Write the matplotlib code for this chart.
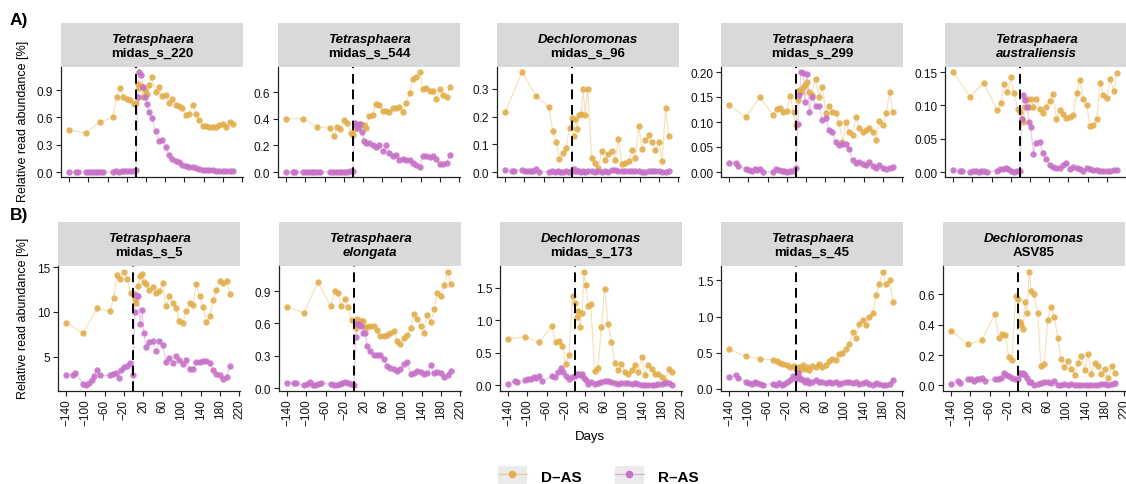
import matplotlib
matplotlib.use("Agg")
import matplotlib.pyplot as plt
from matplotlib.lines import Line2D
from matplotlib.patches import Patch
from matplotlib.legend_handler import HandlerTuple
import numpy as np

plt.rcParams['font.family'] = ['Liberation Sans', 'DejaVu Sans']

# sampling days (shared by all panels)
d_pre_days = [-140, -105, -76, -49, -41, -34, -27, -20, -13, -6, -1]
r_pre_days = [-140, -126, -121, -105, -99, -93, -87, -81, -76, -70,
              -49, -43, -37, -31, -25, -19, -13, -7, -1]
post_days = [3, 6, 10, 14, 18, 22, 27, 32, 40, 47, 54, 61, 68, 75, 82, 89,
             96, 103, 110, 117, 124, 131, 138, 145, 152, 159, 166, 173, 180,
             187, 194, 201]
d_days = d_pre_days + post_days
r_days = r_pre_days + post_days

# ---- A) ----
das_s220 = [0.46, 0.43, 0.55, 0.60, 0.83, 0.92, 0.83, 0.80, 0.79, 0.75, 0.76,
            0.97, 0.92, 0.95, 0.83, 0.90, 0.86, 0.96, 1.05, 0.88, 0.94, 0.84, 0.85,
            0.76, 0.80, 0.74, 0.73, 0.70, 0.63, 0.64, 0.74, 0.64, 0.57, 0.51, 0.51,
            0.50, 0.49, 0.50, 0.52, 0.53, 0.50, 0.55, 0.53]
ras_s220 = [0.0, 0.001, 0.0, 0.0, 0.001, 0.0, 0.0, 0.001, 0.0, 0.0, 0.005, 0.006,
            0.005, 0.008, 0.008, 0.01, 0.01, 0.015, 0.025,
            0.83, 1.10, 1.07, 0.94, 0.82, 0.75, 0.66, 0.59, 0.45, 0.34, 0.35, 0.28,
            0.19, 0.14, 0.12, 0.11, 0.08, 0.07, 0.06, 0.05, 0.04, 0.03, 0.02, 0.02,
            0.02, 0.02, 0.015, 0.01, 0.01, 0.01, 0.01, 0.01]

das_s544 = [0.40, 0.40, 0.34, 0.33, 0.27, 0.34, 0.32, 0.39, 0.37, 0.29, 0.28,
            0.32, 0.33, 0.35, 0.36, 0.35, 0.35, 0.33, 0.42, 0.43, 0.51, 0.50, 0.46,
            0.46, 0.45, 0.48, 0.48, 0.49, 0.45, 0.52, 0.59, 0.70, 0.71, 0.75, 0.62,
            0.63, 0.61, 0.61, 0.55, 0.62, 0.58, 0.56, 0.64]
ras_s544 = [0.002, 0.001, 0.001, 0.001, 0.002, 0.001, 0.001, 0.001, 0.002, 0.001,
            0.002, 0.001, 0.002, 0.001, 0.002, 0.003, 0.004, 0.005, 0.008,
            0.37, 0.35, 0.33, 0.36, 0.30, 0.23, 0.22, 0.22, 0.20, 0.19, 0.20, 0.16,
            0.20, 0.14, 0.12, 0.13, 0.09, 0.10, 0.09, 0.09, 0.07, 0.05, 0.04, 0.12,
            0.12, 0.11, 0.12, 0.10, 0.06, 0.06, 0.07, 0.13]

das_s96 = [0.215, 0.36, 0.275, 0.235, 0.147, 0.11, 0.048, 0.068, 0.086, 0.16, 0.195,
           0.13, 0.19, 0.155, 0.205, 0.21, 0.30, 0.205, 0.30, 0.05, 0.035, 0.015,
           0.075, 0.045, 0.065, 0.075, 0.045, 0.12, 0.03, 0.035, 0.04, 0.08, 0.05,
           0.165, 0.085, 0.115, 0.135, 0.11, 0.08, 0.11, 0.04, 0.23, 0.13]
ras_s96 = [0.008, 0.003, 0.006, 0.008, 0.006, 0.005, 0.006, 0.004, 0.012, 0.002,
           0.002, 0.003, 0.002, 0.003, 0.002, 0.001, 0.003, 0.002, 0.004,
           0.01, 0.006, 0.003, 0.004, 0.002, 0.003, 0.002, 0.004, 0.003, 0.002,
           0.004, 0.002, 0.003, 0.001, 0.008, 0.009, 0.006, 0.004, 0.003, 0.005,
           0.004, 0.006, 0.005, 0.002, 0.001, 0.003, 0.004, 0.003, 0.006, 0.002,
           0.001, 0.004]

das_s299 = [0.134, 0.11, 0.15, 0.114, 0.127, 0.128, 0.12, 0.123, 0.152, 0.12, 0.094,
            0.145, 0.165, 0.16, 0.17, 0.175, 0.18, 0.16, 0.155, 0.187, 0.15, 0.17,
            0.118, 0.133, 0.12, 0.118, 0.098, 0.06, 0.10, 0.08, 0.075, 0.11, 0.088,
            0.08, 0.085, 0.088, 0.08, 0.065, 0.103, 0.095, 0.118, 0.16, 0.12]
ras_s299 = [0.018, 0.018, 0.012, 0.007, 0.005, 0.002, 0.006, 0.005, 0.006, 0.0,
            0.0, 0.006, 0.004, 0.003, 0.002, 0.0, 0.002, 0.003, 0.008,
            0.097, 0.155, 0.20, 0.198, 0.14, 0.197, 0.12, 0.15, 0.133, 0.132, 0.105,
            0.108, 0.085, 0.08, 0.06, 0.055, 0.056, 0.056, 0.047, 0.025, 0.018,
            0.02, 0.017, 0.015, 0.02, 0.013, 0.008, 0.015, 0.008, 0.006, 0.009, 0.01]

das_aus = [0.15, 0.113, 0.134, 0.093, 0.103, 0.132, 0.12, 0.142, 0.118, 0.094, 0.09,
           0.08, 0.075, 0.098, 0.11, 0.097, 0.11, 0.098, 0.11, 0.094, 0.088, 0.098,
           0.107, 0.117, 0.08, 0.093, 0.087, 0.081, 0.082, 0.085, 0.118, 0.138,
           0.11, 0.101, 0.069, 0.071, 0.079, 0.134, 0.116, 0.111, 0.139, 0.122, 0.149]
ras_aus = [0.003, 0.001, 0.001, 0.0, 0.001, 0.001, 0.0, 0.002, 0.001, 0.0, 0.002,
           0.004, 0.005, 0.006, 0.004, 0.001, 0.0, 0.001, 0.002,
           0.08, 0.115, 0.108, 0.098, 0.075, 0.067, 0.027, 0.044, 0.045, 0.029,
           0.02, 0.01, 0.007, 0.006, 0.006, 0.01, 0.013, 0.005, 0.007, 0.006,
           0.004, 0.002, 0.006, 0.004, 0.003, 0.003, 0.002, 0.002, 0.002, 0.002,
           0.003, 0.003]

# ---- B) ----
das_s5 = [8.8, 7.6, 10.4, 10.05, 11.6, 14.1, 13.7, 14.5, 13.7, 12.1, 12.1,
          11.5, 11.0, 12.9, 14.0, 14.2, 13.3, 13.1, 12.4, 12.8, 12.1, 12.3, 13.2,
          10.65, 11.8, 11.0, 10.4, 9.0, 8.8, 10.05, 11.0, 10.8, 13.1, 11.8, 10.5,
          8.9, 9.5, 11.3, 12.5, 13.5, 13.2, 13.5, 12.0]
ras_s5 = [3.0, 3.0, 3.2, 2.0, 1.8, 2.1, 2.35, 2.8, 3.5, 2.9, 2.9, 3.1, 3.2, 2.6,
          3.5, 3.8, 4.0, 4.3, 3.0,
          10.0, 11.9, 11.8, 8.7, 10.2, 7.6, 6.1, 6.65, 6.8, 5.6, 6.7, 6.3, 4.4,
          4.8, 4.3, 5.1, 4.6, 4.2, 4.6, 3.6, 3.6, 4.4, 4.45, 4.5, 4.5, 4.3, 3.5,
          3.1, 3.0, 2.5, 2.75, 3.95]

das_elo = [0.75, 0.70, 0.98, 0.76, 0.90, 0.88, 0.76, 0.83, 0.75, 0.63, 0.62,
           0.56, 0.64, 0.62, 0.62, 0.62, 0.57, 0.57, 0.58, 0.58, 0.54, 0.48, 0.48,
           0.49, 0.51, 0.525, 0.44, 0.41, 0.46, 0.49, 0.56, 0.69, 0.64, 0.58, 0.51,
           0.68, 0.61, 0.73, 0.88, 0.85, 0.96, 1.08, 0.97]
ras_elo = [0.047, 0.045, 0.045, 0.025, 0.04, 0.056, 0.03, 0.03, 0.04, 0.05, 0.035,
           0.03, 0.03, 0.04, 0.047, 0.056, 0.05, 0.035, 0.025,
           0.47, 0.59, 0.59, 0.58, 0.51, 0.51, 0.39, 0.34, 0.31, 0.31, 0.31, 0.27,
           0.20, 0.19, 0.18, 0.16, 0.18, 0.225, 0.24, 0.13, 0.14, 0.16, 0.15, 0.13,
           0.14, 0.21, 0.14, 0.15, 0.135, 0.10, 0.125, 0.16]

das_s173 = [0.71, 0.75, 0.66, 0.91, 0.67, 0.69, 0.60, 0.33, 0.47, 1.38, 1.27,
            1.05, 1.15, 0.90, 1.11, 1.75, 1.54, 1.22, 1.25, 0.22, 0.26, 0.90, 1.49,
            0.94, 0.67, 0.35, 0.24, 0.33, 0.20, 0.17, 0.24, 0.31, 0.20, 0.43, 0.16,
            0.31, 0.25, 0.18, 0.18, 0.13, 0.07, 0.25, 0.21]
ras_s173 = [0.02, 0.07, 0.05, 0.08, 0.09, 0.10, 0.13, 0.12, 0.14, 0.07, 0.14, 0.13,
            0.21, 0.27, 0.21, 0.15, 0.10, 0.13, 0.15,
            0.17, 0.18, 0.16, 0.17, 0.11, 0.08, 0.02, 0.05, 0.02, 0.03, 0.05, 0.06,
            0.06, 0.05, 0.04, 0.02, 0.03, 0.03, 0.03, 0.02, 0.03, 0.02, 0.01, 0.01,
            0.01, 0.0, 0.01, 0.02, 0.02, 0.04, 0.03, 0.01]

das_s45 = [0.55, 0.45, 0.42, 0.40, 0.38, 0.36, 0.35, 0.33, 0.30, 0.32, 0.28,
           0.25, 0.30, 0.27, 0.33, 0.28, 0.30, 0.26, 0.32, 0.30, 0.35, 0.30, 0.33,
           0.38, 0.42, 0.40, 0.48, 0.50, 0.55, 0.62, 0.78, 0.70, 0.90, 0.95, 0.88,
           1.00, 1.05, 1.30, 1.45, 1.62, 1.45, 1.50, 1.20]
ras_s45 = [0.17, 0.19, 0.15, 0.10, 0.08, 0.07, 0.09, 0.08, 0.07, 0.06, 0.07, 0.06,
           0.08, 0.06, 0.07, 0.09, 0.12, 0.18, 0.14,
           0.22, 0.16, 0.14, 0.12, 0.10, 0.12, 0.08, 0.10, 0.12, 0.09, 0.10, 0.08,
           0.09, 0.08, 0.10, 0.07, 0.08, 0.10, 0.09, 0.08, 0.10, 0.07, 0.08, 0.09,
           0.07, 0.06, 0.08, 0.07, 0.06, 0.05, 0.07, 0.12]

das_asv85 = [0.36, 0.27, 0.30, 0.47, 0.31, 0.34, 0.33, 0.185, 0.17, 0.59, 0.57,
             0.42, 0.40, 0.37, 0.55, 0.48, 0.75, 0.62, 0.60, 0.48, 0.13, 0.14, 0.43,
             0.52, 0.45, 0.31, 0.175, 0.12, 0.16, 0.11, 0.07, 0.15, 0.195, 0.10,
             0.205, 0.075, 0.15, 0.13, 0.075, 0.11, 0.046, 0.125, 0.08]
ras_asv85 = [0.01, 0.03, 0.015, 0.045, 0.04, 0.03, 0.045, 0.045, 0.05, 0.03, 0.04,
             0.045, 0.05, 0.08, 0.07, 0.06, 0.05, 0.04, 0.04,
             0.08, 0.075, 0.08, 0.07, 0.05, 0.02, 0.025, 0.005, 0.01, 0.015, 0.02,
             0.02, 0.015, 0.03, 0.005, 0.005, 0.01, 0.005, 0.01, 0.005, 0.005,
             0.005, 0.0, 0.005, 0.0, 0.005, 0.005, 0.01, 0.01, 0.005, 0.01, 0.015]

# (genus, second line, second line italic?, D-AS, R-AS, y ticks, tick format)
panels_a = [
    ("Tetrasphaera", "midas_s_220", False, das_s220, ras_s220, [0.0, 0.3, 0.6, 0.9], "%.1f"),
    ("Tetrasphaera", "midas_s_544", False, das_s544, ras_s544, [0.0, 0.2, 0.4, 0.6], "%.1f"),
    ("Dechloromonas", "midas_s_96", False, das_s96, ras_s96, [0.0, 0.1, 0.2, 0.3], "%.1f"),
    ("Tetrasphaera", "midas_s_299", False, das_s299, ras_s299, [0.0, 0.05, 0.10, 0.15, 0.20], "%.2f"),
    ("Tetrasphaera", "australiensis", True, das_aus, ras_aus, [0.0, 0.05, 0.10, 0.15], "%.2f"),
]
panels_b = [
    ("Tetrasphaera", "midas_s_5", False, das_s5, ras_s5, [5, 10, 15], "%d"),
    ("Tetrasphaera", "elongata", True, das_elo, ras_elo, [0.0, 0.3, 0.6, 0.9], "%.1f"),
    ("Dechloromonas", "midas_s_173", False, das_s173, ras_s173, [0.0, 0.5, 1.0, 1.5], "%.1f"),
    ("Tetrasphaera", "midas_s_45", False, das_s45, ras_s45, [0.0, 0.5, 1.0, 1.5], "%.1f"),
    ("Dechloromonas", "ASV85", False, das_asv85, ras_asv85, [0.0, 0.2, 0.4, 0.6], "%.1f"),
]
x_ticks = list(range(-140, 221, 40))

col_d = "#E2AE4C"
col_r = "#C771C8"

W, H = 1126, 485
fig = plt.figure(figsize=(W / 100, H / 100), dpi=100)


def box(left, top, w, h):
    return [left / W, 1 - (top + h) / H, w / W, h / H]


def draw_panel(left, strip_top, ax_top, ax_h, genus, name, name_it, dv, rv, yt, fmt, show_x):
    sax = fig.add_axes(box(left, strip_top, 182, ax_top - strip_top))
    sax.set_facecolor("#D9D9D9")
    sax.set_xticks([]); sax.set_yticks([])
    for s in sax.spines.values():
        s.set_visible(False)
    sax.text(0.5, 0.64, genus, transform=sax.transAxes, ha="center", va="center",
             fontsize=9.5, fontweight="bold", style="italic")
    sax.text(0.5, 0.32, name, transform=sax.transAxes, ha="center", va="center",
             fontsize=9.5, fontweight="bold", style="italic" if name_it else "normal")

    ax = fig.add_axes(box(left, ax_top, 182, ax_h))
    ax.plot(d_days, dv, color=col_d, lw=0.9, alpha=0.35, zorder=2)
    ax.plot(r_days, rv, color=col_r, lw=0.9, alpha=0.35, zorder=2)
    ax.scatter(d_days, dv, s=21, color=col_d, alpha=0.9, lw=0, zorder=3)
    ax.scatter(r_days, rv, s=21, color=col_r, alpha=0.9, lw=0, zorder=3)
    ax.axvline(0, color="black", lw=1.4, ls=(0, (5, 3)), zorder=4)

    lo = min(min(dv), min(rv)); hi = max(max(dv), max(rv))
    pad = (hi - lo) * 0.05
    ax.set_ylim(lo - pad, hi + pad)
    ax.set_xlim(-157, 222)
    ax.set_yticks(yt)
    ax.set_yticklabels([fmt % v for v in yt])
    ax.set_xticks(x_ticks)
    if show_x:
        ax.set_xticklabels([str(v).replace("-", "\u2212") for v in x_ticks], rotation=90)
    else:
        ax.set_xticklabels([])
    for s in ["top", "right"]:
        ax.spines[s].set_visible(False)
    for s in ["left", "bottom"]:
        ax.spines[s].set_linewidth(0.9)
        ax.spines[s].set_color("#222222")
    ax.tick_params(direction="out", length=3.5, width=0.8, labelsize=8.5, pad=2,
                   colors="#222222", labelcolor="#111111")
    ax.set_facecolor("white")
    return ax


lefts_a = [61, 278, 497, 721, 945]
lefts_b = [58, 279, 500, 721, 943]
for left, p in zip(lefts_a, panels_a):
    draw_panel(left, 24, 68, 110, *p, show_x=False)
for left, p in zip(lefts_b, panels_b):
    draw_panel(left, 223, 267, 125, *p, show_x=True)

fig.text(10 / W, 1 - 20 / H, "A)", fontsize=12.5, fontweight="bold", ha="left", va="center")
fig.text(10 / W, 1 - 216 / H, "B)", fontsize=12.5, fontweight="bold", ha="left", va="center")
fig.text(23 / W, 1 - 121 / H, "Relative read abundance [%]", rotation=90,
         fontsize=9, ha="center", va="center")
fig.text(23 / W, 1 - 318 / H, "Relative read abundance [%]", rotation=90,
         fontsize=9, ha="center", va="center")
fig.text(590 / W, 1 - 437 / H, "Days", fontsize=9.5, ha="center", va="center")

handles = [
    (Patch(facecolor="#EBEBEB", edgecolor="none"),
     Line2D([], [], color=col_d, alpha=0.5, lw=0.9),
     Line2D([], [], color=col_d, marker="o", ms=4.5, lw=0)),
    (Patch(facecolor="#EBEBEB", edgecolor="none"),
     Line2D([], [], color=col_r, alpha=0.5, lw=0.9),
     Line2D([], [], color=col_r, marker="o", ms=4.5, lw=0)),
]
leg = fig.legend(handles, ["D\u2013AS", "R\u2013AS"], ncol=2, loc="center",
                 bbox_to_anchor=(598 / W, 1 - 477 / H), frameon=False,
                 handler_map={tuple: HandlerTuple(ndivide=1, pad=0)},
                 prop={"weight": "bold", "size": 11}, handlelength=1.9,
                 handleheight=1.6, handletextpad=0.9, columnspacing=2.2)

fig.savefig("out.png", dpi=100)
